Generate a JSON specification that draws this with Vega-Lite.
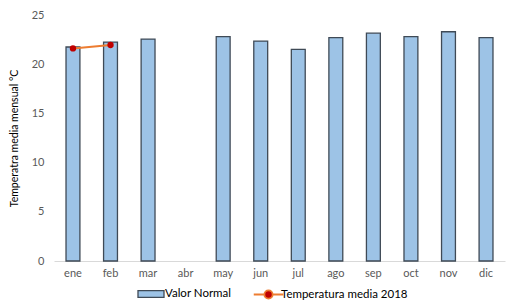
{
  "$schema": "https://vega.github.io/schema/vega-lite/v6.json",
  "width": 451,
  "height": 246,
  "autosize": {"type": "none"},
  "padding": {"left": 54, "top": 15, "right": 26, "bottom": 42},
  "background": "white",
  "config": {
    "view": {"stroke": null},
    "font": "Lato",
    "axis": {"labelFont": "Lato", "titleFont": "Lato", "labelColor": "#595959", "labelFontSize": 11, "grid": false, "ticks": false},
    "legend": {"labelFont": "Lato", "labelFontSize": 11.5, "labelColor": "#000000"}
  },
  "datasets": {
    "normal": [
      {"mes": "ene", "valor": 21.75, "serie": "Valor Normal"},
      {"mes": "feb", "valor": 22.25, "serie": "Valor Normal"},
      {"mes": "mar", "valor": 22.55, "serie": "Valor Normal"},
      {"mes": "abr", "valor": null, "serie": "Valor Normal"},
      {"mes": "may", "valor": 22.8, "serie": "Valor Normal"},
      {"mes": "jun", "valor": 22.35, "serie": "Valor Normal"},
      {"mes": "jul", "valor": 21.5, "serie": "Valor Normal"},
      {"mes": "ago", "valor": 22.7, "serie": "Valor Normal"},
      {"mes": "sep", "valor": 23.15, "serie": "Valor Normal"},
      {"mes": "oct", "valor": 22.8, "serie": "Valor Normal"},
      {"mes": "nov", "valor": 23.3, "serie": "Valor Normal"},
      {"mes": "dic", "valor": 22.7, "serie": "Valor Normal"}
    ],
    "t2018": [
      {"mes": "ene", "valor": 21.6, "serie": "Temperatura media 2018"},
      {"mes": "feb", "valor": 21.95, "serie": "Temperatura media 2018"}
    ]
  },
  "encoding": {
    "x": {
      "field": "mes", "type": "nominal",
      "sort": ["ene","feb","mar","abr","may","jun","jul","ago","sep","oct","nov","dic"],
      "scale": {"domain": ["ene","feb","mar","abr","may","jun","jul","ago","sep","oct","nov","dic"], "paddingInner": 0.63, "paddingOuter": 0.32},
      "axis": {"title": null, "labelAngle": 0, "domainColor": "#D9D9D9", "domainWidth": 1, "labelPadding": 6}
    },
    "y": {
      "field": "valor", "type": "quantitative",
      "scale": {"domain": [0, 25]},
      "axis": {"title": "Temperatra media mensual °C", "values": [0,5,10,15,20,25], "domain": false, "labelPadding": 10, "titleFontSize": 10.5, "titleFontWeight": "normal", "titleColor": "#000000", "titlePadding": 12}
    }
  },
  "layer": [
    {
      "data": {"name": "normal"},
      "mark": {"type": "bar", "stroke": "#3F4A56", "strokeWidth": 1.3},
      "encoding": {
        "fill": {
          "field": "serie", "type": "nominal",
          "scale": {"domain": ["Valor Normal"], "range": ["#9DC3E6"]},
          "legend": {
            "orient": "none", "legendX": 86, "legendY": 268,
            "title": null, "symbolSize": 400, "labelOffset": 3,
            "symbolType": "M-1.3,-0.33H1.3V0.33H-1.3Z",
            "symbolStrokeColor": "#3F4A56", "symbolStrokeWidth": 1.3, "symbolFillColor": "#9DC3E6"
          }
        }
      }
    },
    {
      "data": {"name": "t2018"},
      "mark": {"type": "line", "strokeWidth": 2},
      "encoding": {
        "stroke": {
          "field": "serie", "type": "nominal",
          "scale": {"domain": ["Temperatura media 2018"], "range": ["#ED7D31"]},
          "legend": {
            "orient": "none", "legendX": 204, "legendY": 269,
            "title": null, "symbolSize": 340, "labelOffset": 2,
            "symbolType": "M-1.6,0H-0.45M0.45,0H1.6M0.45,0A0.45,0.45 0 1,1 -0.45,0A0.45,0.45 0 1,1 0.45,0",
            "symbolStrokeWidth": 1.8, "symbolFillColor": "#C00000"
          }
        }
      }
    },
    {
      "data": {"name": "t2018"},
      "mark": {"type": "point", "filled": true, "color": "#C00000", "size": 40, "opacity": 1},
      "encoding": {}
    }
  ]
}
